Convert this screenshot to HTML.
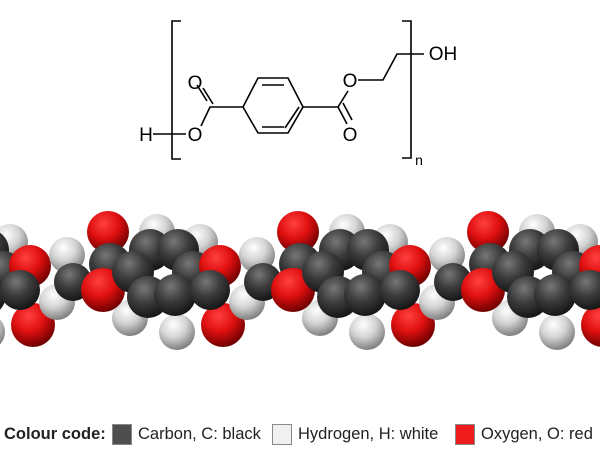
<!DOCTYPE html>
<html><head><meta charset="utf-8"><style>
body{margin:0;background:#fff;width:600px;height:450px;overflow:hidden;font-family:"Liberation Sans",sans-serif}
.t{position:absolute;top:424px;font-size:16.5px;color:#222;white-space:nowrap;line-height:20px}
.sw{position:absolute;top:424px;width:20px;height:21px;border:1px solid #888;box-sizing:border-box}
</style></head><body>
<svg width="600" height="450" style="position:absolute;left:0;top:0">
<defs>
<radialGradient id="gC" cx="40%" cy="30%" r="70%"><stop offset="0" stop-color="#777"/><stop offset="0.5" stop-color="#3c3c3c"/><stop offset="1" stop-color="#161616"/></radialGradient>
<radialGradient id="gO" cx="40%" cy="30%" r="70%"><stop offset="0" stop-color="#ff4040"/><stop offset="0.5" stop-color="#e01010"/><stop offset="1" stop-color="#700000"/></radialGradient>
<radialGradient id="gH" cx="40%" cy="30%" r="70%"><stop offset="0" stop-color="#fff"/><stop offset="0.5" stop-color="#d4d4d4"/><stop offset="1" stop-color="#808080"/></radialGradient>
<g id="u">
<circle cx="157" cy="232" r="18" fill="url(#gH)"/>
<circle cx="200" cy="242" r="18" fill="url(#gH)"/>
<circle cx="130" cy="318" r="18" fill="url(#gH)"/>
<circle cx="177" cy="332" r="18" fill="url(#gH)"/>
<circle cx="67" cy="255" r="18" fill="url(#gH)"/>
<circle cx="57" cy="302" r="18" fill="url(#gH)"/>
<circle cx="73" cy="282" r="19" fill="url(#gC)"/>
<circle cx="108" cy="232" r="21" fill="url(#gO)"/>
<circle cx="110" cy="264" r="21" fill="url(#gC)"/>
<circle cx="103" cy="290" r="22" fill="url(#gO)"/>
<circle cx="150" cy="250" r="21" fill="url(#gC)"/>
<circle cx="178" cy="250" r="21" fill="url(#gC)"/>
<circle cx="133" cy="272" r="21" fill="url(#gC)"/>
<circle cx="193" cy="272" r="21" fill="url(#gC)"/>
<circle cx="148" cy="297" r="21" fill="url(#gC)"/>
<circle cx="175" cy="295" r="21" fill="url(#gC)"/>
<circle cx="223" cy="325" r="22" fill="url(#gO)"/>
<circle cx="220" cy="266" r="21" fill="url(#gO)"/>
<circle cx="210" cy="290" r="20" fill="url(#gC)"/>
</g>
</defs>
<use href="#u" x="-190"/><use href="#u"/><use href="#u" x="190"/><use href="#u" x="380"/>
<g stroke="#000" stroke-width="1.6" fill="none">
<path d="M181 21H172V159H181"/>
<path d="M402 21H411V158H402"/>
<path d="M153 134H186"/>
<path d="M201 126L210 107L243 107L258 78H288L303 107L288 133H258L243 107"/>
<path d="M262 85H284M299 107L285 128M262 127H284"/>
<path d="M207 101L197 85M213 104L203 88"/>
<path d="M303 107H338L348 91"/>
<path d="M338 107L347 124M343 103L352 120"/>
<path d="M358 80H383L397 54H424"/>
</g>
<g font-family="Liberation Sans,sans-serif" font-size="19" fill="#000" text-anchor="middle">
<text x="146" y="141">H</text>
<text x="195" y="141">O</text>
<text x="195" y="89">O</text>
<text x="350" y="141">O</text>
<text x="350" y="87">O</text>
<text x="443" y="60">OH</text>
<text x="419" y="165" font-size="14">n</text>
</g>
</svg>
<div class="t" style="left:4px;font-weight:bold">Colour code:</div>
<div class="sw" style="left:112px;background:#4e4e4e"></div>
<div class="t" style="left:138px">Carbon, C: black</div>
<div class="sw" style="left:272px;background:#f0f0f0"></div>
<div class="t" style="left:298px">Hydrogen, H: white</div>
<div class="sw" style="left:455px;background:#ee1c1c"></div>
<div class="t" style="left:481px">Oxygen, O: red</div>
</body></html>
